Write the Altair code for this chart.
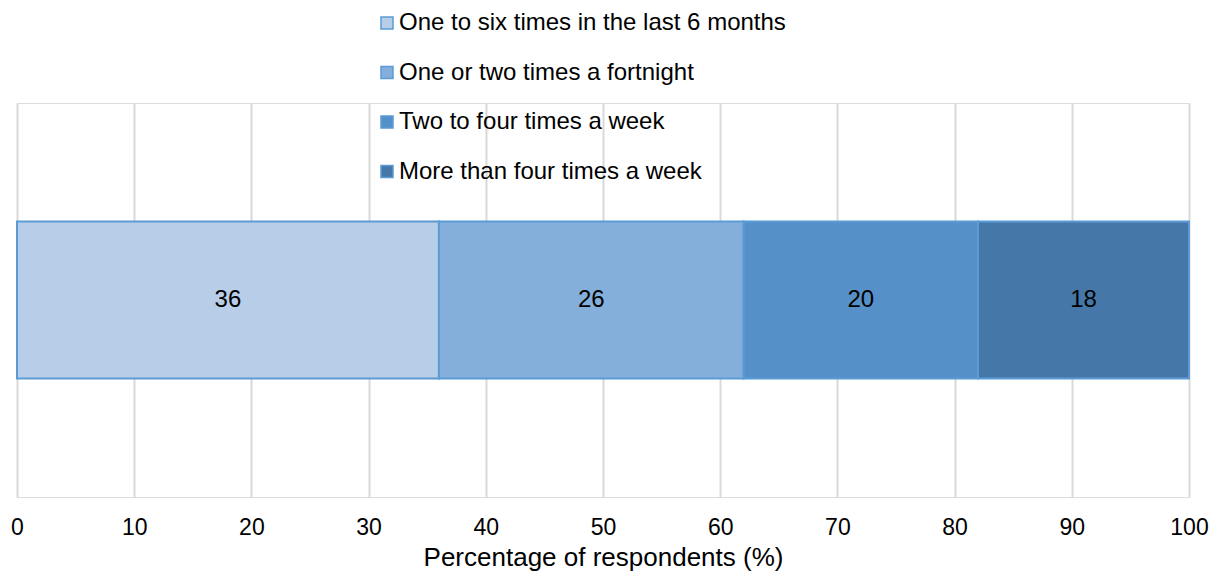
import altair as alt
import pandas as pd

categories = [
    "One to six times in the last 6 months",
    "One or two times a fortnight",
    "Two to four times a week",
    "More than four times a week",
]
values = [36, 26, 20, 18]
colors = ["#B8CDE8", "#84AFDB", "#5591C8", "#4578A8"]
x_ticks = [0, 10, 20, 30, 40, 50, 60, 70, 80, 90, 100]

df = pd.DataFrame({
    "group": ["all"] * len(categories),
    "category": categories,
    "value": values,
    "order": list(range(len(categories))),
})

FONT = "Liberation Sans"

base = alt.Chart(df).transform_window(
    cum="sum(value)", sort=[alt.SortField("order")], frame=[None, 0]
).transform_calculate(
    start="datum.cum - datum.value",
    mid="datum.cum - datum.value / 2",
)

yscale = alt.Scale(paddingInner=0, paddingOuter=0.755)

bars = base.mark_bar(stroke="#5B9BD5", strokeWidth=2).encode(
    x=alt.X(
        "start:Q",
        scale=alt.Scale(domain=[0, 100], nice=False),
        axis=alt.Axis(
            values=x_ticks,
            title="Percentage of respondents (%)",
            grid=True,
            gridColor="#D9D9D9",
            gridWidth=2,
            domain=False,
            ticks=False,
            labelFont=FONT,
            labelFontSize=23,
            labelColor="#000000",
            labelPadding=19,
            labelFlush=False,
            titleFont=FONT,
            titleFontSize=26,
            titleFontWeight="normal",
            titleColor="#000000",
            titlePadding=5,
        ),
    ),
    x2="cum:Q",
    y=alt.Y("group:N", axis=None, scale=yscale),
    color=alt.Color(
        "category:N",
        scale=alt.Scale(domain=categories, range=colors),
        sort=categories,
        legend=alt.Legend(
            title=None,
            orient="none",
            legendX=358,
            legendY=-92,
            direction="vertical",
            symbolType="square",
            symbolSize=144,
            symbolStrokeColor="#5B9BD5",
            symbolStrokeWidth=1.5,
            labelFont=FONT,
            labelFontSize=24,
            labelColor="#000000",
            labelOffset=0,
            rowPadding=25.5,
            padding=0,
            labelLimit=600,
        ),
    ),
)

labels = base.mark_text(font=FONT, fontSize=24, color="#000000").encode(
    x=alt.X("mid:Q"),
    y=alt.Y("group:N", axis=None, scale=yscale),
    text=alt.Text("value:Q"),
)

chart = (
    alt.layer(bars, labels)
    .properties(
        width=1172,
        height=394,
        autosize=alt.AutoSizeParams(type="none"),
        padding={"left": 9, "top": 95, "right": 20, "bottom": 75},
    )
    .configure_view(stroke=None)
    .configure(background="white")
)

chart.save("out.html", embed_options={"renderer": "svg", "actions": False})
